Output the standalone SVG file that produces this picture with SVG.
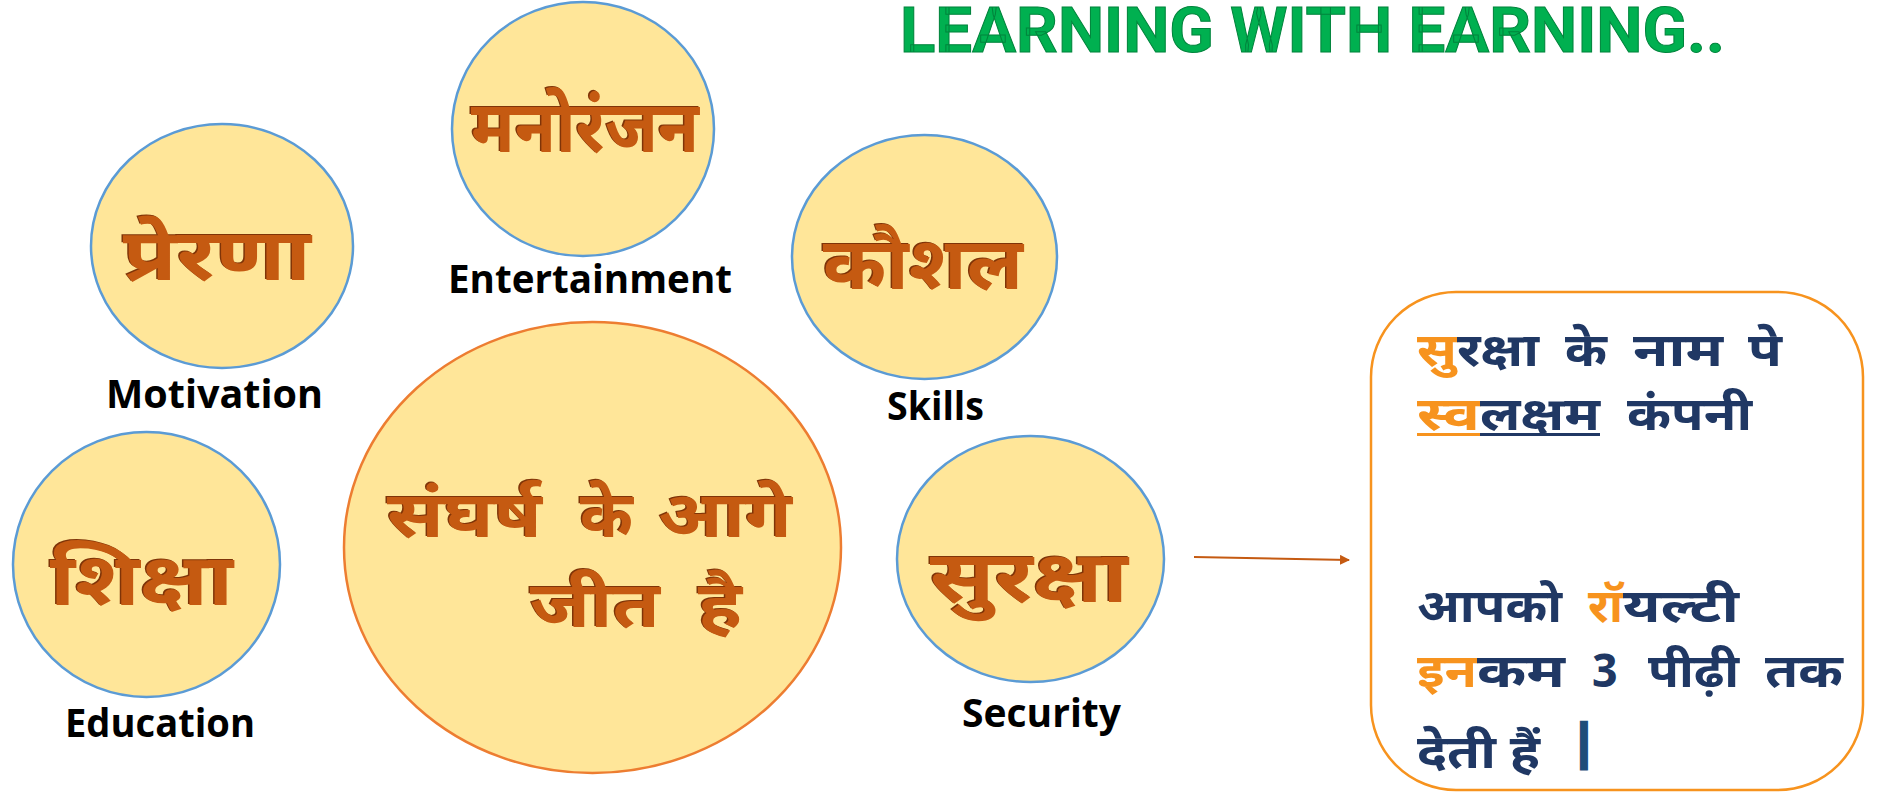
<svg xmlns="http://www.w3.org/2000/svg" width="1883" height="792" viewBox="0 0 1883 792">
<style>
.c{fill:#FFE699;stroke:#5B9BD5;stroke-width:2.5}
.big{fill:#FFE699;stroke:#ED7D31;stroke-width:2.5}
.hi{font-family:'Noto Sans Devanagari','Noto Sans','Nirmala UI','Mangal',sans-serif;font-weight:bold;fill:#C55A11}
.sh{fill:#7F3408}
.en{font-family:'Open Sans','Lato',sans-serif;font-weight:bold;fill:#000;font-size:39px}
.bx{font-family:'Noto Sans Devanagari','Noto Sans','Nirmala UI','Mangal',sans-serif;font-weight:bold;font-size:46px;fill:#203864}
.or{fill:#F7931E}
.title{font-family:Roboto,'Open Sans',sans-serif;font-weight:bold;font-size:63px;fill:#00B050;stroke:#00843C;stroke-width:1}
</style>
<defs>
<marker id="ah" markerWidth="10" markerHeight="10" refX="9" refY="5" orient="auto" markerUnits="userSpaceOnUse" viewBox="0 0 10 10">
<path d="M0,0 L10,5 L0,10 Z" fill="#C55A11"/>
</marker>
</defs>
<rect width="1883" height="792" fill="#fff"/>
<g id="title"><text class="title" x="900" y="52" textLength="825" lengthAdjust="spacingAndGlyphs">LEARNING WITH EARNING..</text></g>

<g id="connectors">
<line x1="1194" y1="557" x2="1349" y2="560" stroke="#C55A11" stroke-width="2" marker-end="url(#ah)"/>
</g>

<g id="motivation">
<ellipse class="c" cx="222" cy="246" rx="131" ry="122"/>
<text class="hi sh" x="121.5" y="278.5" font-size="72" textLength="188" lengthAdjust="spacingAndGlyphs">प्रेरणा</text>
<text class="hi" x="123" y="280" font-size="72" textLength="188" lengthAdjust="spacingAndGlyphs">प्रेरणा</text>
<text class="en" x="106" y="408" textLength="217" lengthAdjust="spacingAndGlyphs">Motivation</text>
</g>

<g id="entertainment">
<ellipse class="c" cx="583" cy="129" rx="131" ry="127"/>
<text class="hi sh" x="469.5" y="150.5" font-size="72" textLength="228" lengthAdjust="spacingAndGlyphs">मनोरंजन</text>
<text class="hi" x="471" y="152" font-size="72" textLength="228" lengthAdjust="spacingAndGlyphs">मनोरंजन</text>
<text class="en" x="448" y="293" textLength="284" lengthAdjust="spacingAndGlyphs">Entertainment</text>
</g>

<g id="skills">
<ellipse class="c" cx="924.5" cy="257" rx="132.5" ry="122"/>
<text class="hi sh" x="821.5" y="287.5" font-size="72" textLength="200" lengthAdjust="spacingAndGlyphs">कौशल</text>
<text class="hi" x="823" y="289" font-size="72" textLength="200" lengthAdjust="spacingAndGlyphs">कौशल</text>
<text class="en" x="887" y="420" textLength="97" lengthAdjust="spacingAndGlyphs">Skills</text>
</g>

<g id="security">
<ellipse class="c" cx="1030.5" cy="559" rx="133.5" ry="123"/>
<text class="hi sh" x="928.5" y="600.5" font-size="72" textLength="198" lengthAdjust="spacingAndGlyphs">सुरक्षा</text>
<text class="hi" x="930" y="602" font-size="72" textLength="198" lengthAdjust="spacingAndGlyphs">सुरक्षा</text>
<text class="en" x="962" y="727" textLength="159" lengthAdjust="spacingAndGlyphs">Security</text>
</g>

<g id="education">
<ellipse class="c" cx="146.5" cy="564.5" rx="133.5" ry="132.5"/>
<text class="hi sh" x="48.5" y="603.5" font-size="72" textLength="183" lengthAdjust="spacingAndGlyphs">शिक्षा</text>
<text class="hi" x="50" y="605" font-size="72" textLength="183" lengthAdjust="spacingAndGlyphs">शिक्षा</text>
<text class="en" x="65" y="737" textLength="190" lengthAdjust="spacingAndGlyphs">Education</text>
</g>

<g id="center">
<ellipse class="big" cx="592.5" cy="547.5" rx="248.5" ry="225.5"/>
<text class="hi sh" x="385.5" y="535.5" font-size="64" textLength="155" lengthAdjust="spacingAndGlyphs">संघर्ष</text>
<text class="hi" x="387" y="537" font-size="64" textLength="155" lengthAdjust="spacingAndGlyphs">संघर्ष</text>
<text class="hi sh" x="578.5" y="535.5" font-size="64" textLength="53" lengthAdjust="spacingAndGlyphs">के</text>
<text class="hi" x="580" y="537" font-size="64" textLength="53" lengthAdjust="spacingAndGlyphs">के</text>
<text class="hi sh" x="656.5" y="535.5" font-size="64" textLength="134" lengthAdjust="spacingAndGlyphs">आगे</text>
<text class="hi" x="658" y="537" font-size="64" textLength="134" lengthAdjust="spacingAndGlyphs">आगे</text>
<text class="hi sh" x="528.5" y="625.5" font-size="64" textLength="130" lengthAdjust="spacingAndGlyphs">जीत</text>
<text class="hi" x="530" y="627" font-size="64" textLength="130" lengthAdjust="spacingAndGlyphs">जीत</text>
<text class="hi sh" x="696.5" y="625.5" font-size="64" textLength="44" lengthAdjust="spacingAndGlyphs">है</text>
<text class="hi" x="698" y="627" font-size="64" textLength="44" lengthAdjust="spacingAndGlyphs">है</text>
</g>

<g id="infobox">
<rect x="1371" y="292" width="492" height="498" rx="85" ry="85" fill="#fff" stroke="#F7931E" stroke-width="2.5"/>
<text class="bx or" x="1417" y="366" textLength="40" lengthAdjust="spacingAndGlyphs">सु</text>
<text class="bx" x="1457" y="366" textLength="82" lengthAdjust="spacingAndGlyphs">रक्षा</text>
<text class="bx" x="1565" y="366" textLength="42" lengthAdjust="spacingAndGlyphs">के</text>
<text class="bx" x="1633" y="366" textLength="90" lengthAdjust="spacingAndGlyphs">नाम</text>
<text class="bx" x="1748" y="366" textLength="34" lengthAdjust="spacingAndGlyphs">पे</text>
<text class="bx or" x="1417" y="430" textLength="63" lengthAdjust="spacingAndGlyphs">स्व</text>
<text class="bx" x="1480" y="430" textLength="120" lengthAdjust="spacingAndGlyphs">लक्षम</text>
<rect x="1417" y="433" width="63" height="3" fill="#F7931E"/>
<rect x="1480" y="433" width="120" height="3" fill="#203864"/>
<text class="bx" x="1627" y="430" textLength="125" lengthAdjust="spacingAndGlyphs">कंपनी</text>
<text class="bx" x="1417" y="622" textLength="145" lengthAdjust="spacingAndGlyphs">आपको</text>
<text class="bx or" x="1588" y="622" textLength="35" lengthAdjust="spacingAndGlyphs">रॉ</text>
<text class="bx" x="1623" y="622" textLength="116" lengthAdjust="spacingAndGlyphs">यल्टी</text>
<text class="bx or" x="1417" y="687" textLength="60" lengthAdjust="spacingAndGlyphs">इन</text>
<text class="bx" x="1477" y="687" textLength="88" lengthAdjust="spacingAndGlyphs">कम</text>
<text class="bx" x="1592" y="687" textLength="26" lengthAdjust="spacingAndGlyphs">3</text>
<text class="bx" x="1648" y="687" textLength="91" lengthAdjust="spacingAndGlyphs">पीढ़ी</text>
<text class="bx" x="1765" y="687" textLength="78" lengthAdjust="spacingAndGlyphs">तक</text>
<text class="bx" x="1417" y="768" textLength="123" lengthAdjust="spacingAndGlyphs">देती हैं</text>
<text class="bx" x="1584" y="761" font-size="56" text-anchor="middle" style="fill:#1F4E79;stroke:#1F4E79;stroke-width:3">|</text>
</g>
</svg>
